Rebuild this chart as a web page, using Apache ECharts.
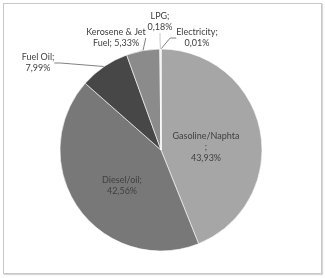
<!DOCTYPE html>
<html>
<head>
<meta charset="utf-8">
<script src="https://cdn.jsdelivr.net/npm/echarts@6/dist/echarts.min.js"></script>
<style>
  html, body { margin: 0; padding: 0; background: #fff; }
  #frame { position: absolute; left: 3px; top: 3px; width: 317px; height: 269px; border: 1px solid #c8c8c8; box-shadow: 1px 1px 1px #d8d8d8; }
  #chart { width: 325px; height: 278px; position: absolute; left: 0; top: 0; }
</style>
</head>
<body>
<div id="frame"></div>
<div id="chart"></div>
<script>
// fuel shares, clockwise from 12 o'clock
var names = ["Gasoline/Naphta", "Diesel/oil", "Fuel Oil", "Kerosene & Jet Fuel", "LPG", "Electricity"];
var values = [43.93, 42.56, 7.99, 5.33, 0.18, 0.01];
var colors = ["#a6a6a6", "#787878", "#474747", "#8b8b8b", "#d9d9d9", "#bfbfbf"];

// label text as shown in the chart
var labelText = [
  "Gasoline/Naphta\n;\n43,93%",
  "Diesel/oil;\n42,56%",
  "Fuel Oil;\n7,99%",
  "Kerosene & Jet\nFuel; 5,33%",
  "LPG;\n0,18%",
  "Electricity;\n0,01%"
];
// where each label sits
var labelPos = [
  { x: 206, y: 147 },
  { x: 122, y: 186 },
  { x: 38, y: 63 },
  { x: 116, y: 38 },
  { x: 160, y: 22 },
  { x: 197, y: 38 }
];

var chart = echarts.init(document.getElementById("chart"));
var data = names.map(function (n, i) {
  var inside = i < 2;
  return {
    name: n,
    value: values[i],
    itemStyle: { color: colors[i] },
    label: {
      position: inside ? "inside" : "outside",
      formatter: labelText[i]
    },
    labelLine: {
      show: !inside,
      length: 8,
      length2: 6,
      lineStyle: { color: i === 4 ? "#c8c8c8" : "#808080", width: 1 }
    }
  };
});

chart.setOption({
  animation: false,
  series: [
    {
      type: "pie",
      center: [161, 150],
      radius: [0, 101],
      startAngle: 90,
      clockwise: true,
      avoidLabelOverlap: false,
      itemStyle: { borderColor: "#fff", borderWidth: 0.6 },
      label: {
        color: "#404040",
        fontFamily: "Lato",
        fontSize: 9,
        lineHeight: 11,
        align: "center"
      },
      labelLayout: function (p) {
        var pos = labelPos[p.dataIndex];
        return { x: pos.x, y: pos.y, align: "center", verticalAlign: "middle" };
      },
      data: data
    }
  ]
});
window.addEventListener("resize", chart.resize);
</script>
</body>
</html>
